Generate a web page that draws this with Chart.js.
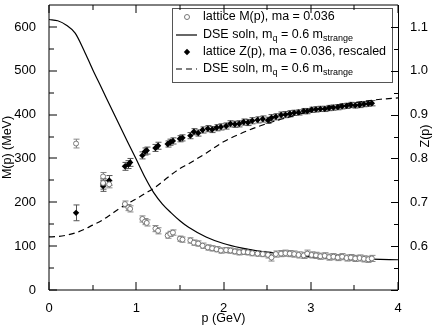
<!DOCTYPE html>
<html>
<head>
<meta charset="utf-8">
<script src="https://cdn.jsdelivr.net/npm/chart.js@4.4.0/dist/chart.umd.min.js"></script>
<style>
  body { margin: 0; background: #fff; }
</style>
</head>
<body>
<canvas id="c" width="436" height="326"></canvas>
<script>
const FONT = '"Liberation Sans", Arial, Helvetica, sans-serif';

// lattice momenta (GeV), shared by M(p) and Z(p)
const momenta = [
  0.31, 0.62, 0.62, 0.69, 0.87, 0.91, 0.93, 1.07, 1.10, 1.12,
  1.22, 1.25, 1.36, 1.39, 1.42, 1.50, 1.53, 1.62, 1.66, 1.71,
  1.76, 1.82, 1.87, 1.92, 1.97, 2.03, 2.08, 2.13, 2.18, 2.23,
  2.28, 2.33, 2.39, 2.45, 2.51, 2.55, 2.60, 2.66, 2.71, 2.76,
  2.81, 2.86, 2.92, 2.96, 3.01, 3.06, 3.11, 3.16, 3.21, 3.26,
  3.31, 3.36, 3.41, 3.46, 3.51, 3.56, 3.61, 3.66, 3.70
];
const latticeM = [
  334, 259, 244, 241, 196, 188, 185, 162, 156, 153,
  140, 135, 124, 128, 131, 117, 115, 113, 108, 106,
  101, 97, 95, 93, 90, 91, 90, 88, 86, 87,
  86, 84, 83, 82, 80, 74, 82, 83, 84, 83,
  82, 80, 79, 83, 80, 79, 77, 78, 75, 76,
  74, 76, 73, 74, 72, 73, 71, 70, 72
];
const latticeMErr = [
  10, 9, 9, 8, 7, 7, 7, 7, 7, 7,
  7, 7, 6, 6, 6, 6, 6, 6, 6, 6,
  6, 6, 6, 6, 6, 6, 6, 6, 6, 6,
  6, 6, 6, 6, 7, 8, 7, 7, 7, 7,
  7, 7, 7, 8, 7, 7, 7, 7, 7, 7,
  7, 7, 7, 7, 7, 7, 7, 7, 7
];
const latticeZ = [
  0.676, 0.737, 0.742, 0.750, 0.782, 0.786, 0.791, 0.807, 0.816, 0.818,
  0.824, 0.829, 0.833, 0.837, 0.840, 0.845, 0.847, 0.852, 0.861, 0.858,
  0.865, 0.868, 0.866, 0.870, 0.872, 0.874, 0.879, 0.878, 0.879, 0.883,
  0.882, 0.886, 0.888, 0.890, 0.887, 0.893, 0.895, 0.899, 0.900, 0.902,
  0.904, 0.905, 0.908, 0.908, 0.911, 0.912, 0.913, 0.913, 0.915, 0.916,
  0.917, 0.919, 0.920, 0.922, 0.921, 0.922, 0.924, 0.925, 0.926
];
const latticeZErr = [
  0.018, 0.012, 0.012, 0.011, 0.009, 0.009, 0.009, 0.008, 0.008, 0.008,
  0.008, 0.008, 0.007, 0.007, 0.007, 0.007, 0.007, 0.007, 0.007, 0.007,
  0.007, 0.007, 0.007, 0.007, 0.007, 0.007, 0.007, 0.007, 0.007, 0.007,
  0.007, 0.007, 0.007, 0.007, 0.007, 0.007, 0.007, 0.007, 0.007, 0.007,
  0.006, 0.006, 0.006, 0.006, 0.006, 0.006, 0.006, 0.006, 0.006, 0.006,
  0.006, 0.006, 0.006, 0.006, 0.006, 0.006, 0.006, 0.006, 0.006
];

// DSE solutions, m_q = 0.6 m_strange
const dseMomenta = [
  0, 0.1, 0.2, 0.3, 0.4, 0.5, 0.6, 0.7, 0.8, 0.9,
  1.0, 1.1, 1.2, 1.3, 1.4, 1.5, 1.6, 1.8, 2.0, 2.2,
  2.4, 2.6, 2.8, 3.0, 3.2, 3.4, 3.6, 3.8, 4.0
];
const dseMass = [
  617, 614, 604, 586, 547, 503, 462, 420, 379, 338,
  298, 257, 222, 196, 176, 158, 143, 121, 106, 96,
  89, 84, 80, 76, 74, 72, 71, 70, 69
];
const dseZ = [
  0.621, 0.622, 0.625, 0.630, 0.638, 0.648, 0.658, 0.671, 0.685, 0.697,
  0.708, 0.720, 0.732, 0.747, 0.763, 0.777, 0.788, 0.812, 0.838, 0.857,
  0.873, 0.886, 0.897, 0.908, 0.917, 0.924, 0.930, 0.935, 0.938
];

const legendLabels = [
  [['lattice M(p), ma = 0.036']],
  [['DSE soln, m'], ['q', true], [' = 0.6 m'], ['strange', true]],
  [['lattice Z(p), ma = 0.036, rescaled']],
  [['DSE soln, m'], ['q', true], [' = 0.6 m'], ['strange', true]]
];

const pts = (xs, ys) => xs.map((x, i) => ({ x: x, y: ys[i] }));

const errorBars = {
  id: 'errorBars',
  beforeDatasetsDraw(chart) {
    const ctx = chart.ctx;
    const xs = chart.scales.x;
    chart.data.datasets.forEach(ds => {
      if (!ds.errors) return;
      const ys = chart.scales[ds.yAxisID];
      ctx.save();
      ctx.strokeStyle = ds.errorColor;
      ctx.lineWidth = 1;
      ds.data.forEach((d, i) => {
        const px = Math.round(xs.getPixelForValue(d.x)) + 0.5;
        const y1 = ys.getPixelForValue(d.y - ds.errors[i]);
        const y2 = ys.getPixelForValue(d.y + ds.errors[i]);
        ctx.beginPath();
        ctx.moveTo(px, y1); ctx.lineTo(px, y2);
        ctx.moveTo(px - 3, y1); ctx.lineTo(px + 3, y1);
        ctx.moveTo(px - 3, y2); ctx.lineTo(px + 3, y2);
        ctx.stroke();
      });
      ctx.restore();
    });
  }
};

function drawLegend(ctx) {
  const box = { left: 172, top: 8, right: 392, bottom: 82 };
  const rows = [17, 35, 52, 69];
  ctx.save();
  ctx.fillStyle = '#fff';
  ctx.fillRect(box.left, box.top, box.right - box.left, box.bottom - box.top);
  ctx.strokeStyle = '#555';
  ctx.lineWidth = 1;
  ctx.strokeRect(box.left + 0.5, box.top + 0.5, box.right - box.left, box.bottom - box.top);

  // symbols
  ctx.strokeStyle = '#777';
  ctx.fillStyle = '#fff';
  ctx.beginPath(); ctx.arc(187, rows[0], 2.5, 0, Math.PI * 2); ctx.fill(); ctx.stroke();
  ctx.strokeStyle = '#000';
  ctx.lineWidth = 1.2;
  ctx.beginPath(); ctx.moveTo(176, rows[1]); ctx.lineTo(197, rows[1]); ctx.stroke();
  ctx.fillStyle = '#000';
  ctx.beginPath();
  ctx.moveTo(187, rows[2] - 3.2); ctx.lineTo(190.2, rows[2]);
  ctx.lineTo(187, rows[2] + 3.2); ctx.lineTo(183.8, rows[2]);
  ctx.closePath(); ctx.fill();
  ctx.setLineDash([6, 4]);
  ctx.beginPath(); ctx.moveTo(176, rows[3]); ctx.lineTo(197, rows[3]); ctx.stroke();
  ctx.setLineDash([]);

  // text
  ctx.fillStyle = '#000';
  ctx.textBaseline = 'middle';
  legendLabels.forEach((parts, r) => {
    let x = 203;
    parts.forEach(([text, sub]) => {
      ctx.font = (sub ? '9px ' : '12.5px ') + FONT;
      ctx.fillText(text, x, sub ? rows[r] + 4 : rows[r]);
      x += ctx.measureText(text).width;
    });
  });
  ctx.restore();
}

const frame = {
  id: 'frame',
  afterDraw(chart) {
    const ctx = chart.ctx;
    const a = chart.chartArea;
    const { x, yM, yZ } = chart.scales;
    drawLegend(ctx);
    ctx.save();
    ctx.strokeStyle = '#000';
    ctx.lineWidth = 1;
    ctx.beginPath();
    ctx.moveTo(a.left, a.bottom); ctx.lineTo(a.left, a.top);
    ctx.lineTo(a.right, a.top);
    ctx.moveTo(a.left, a.bottom); ctx.lineTo(a.right, a.bottom);
    ctx.stroke();
    ctx.beginPath();
    ctx.moveTo(a.right + 0.5, a.top); ctx.lineTo(a.right + 0.5, a.bottom);
    ctx.stroke();

    const withMinor = (scale) => {
      const vals = scale.ticks.map(t => t.value);
      const out = vals.map(v => [v, true]);
      for (let i = 0; i < vals.length - 1; i++) out.push([(vals[i] + vals[i + 1]) / 2, false]);
      return out;
    };
    ctx.beginPath();
    withMinor(x).forEach(([v, major]) => {
      const px = Math.round(x.getPixelForValue(v));
      const len = major ? 8 : 5;
      ctx.moveTo(px, a.bottom); ctx.lineTo(px, a.bottom - len);
      ctx.moveTo(px, a.top); ctx.lineTo(px, a.top + len);
    });
    withMinor(yM).forEach(([v, major]) => {
      const py = Math.round(yM.getPixelForValue(v));
      ctx.moveTo(a.left, py); ctx.lineTo(a.left + (major ? 8 : 5), py);
    });
    withMinor(yZ).forEach(([v, major]) => {
      const py = Math.round(yZ.getPixelForValue(v)) + 0.5;
      ctx.moveTo(a.right, py); ctx.lineTo(a.right - (major ? 7 : 4), py);
    });
    ctx.stroke();

    // right axis title, rotated like the left one
    ctx.fillStyle = '#000';
    ctx.font = '12.5px ' + FONT;
    ctx.textAlign = 'center';
    ctx.textBaseline = 'middle';
    ctx.translate(426, 136);
    ctx.rotate(-Math.PI / 2);
    ctx.fillText('Z(p)', 0, 0);
    ctx.restore();
  }
};

const tickFont = { family: FONT, size: 13 };
const titleFont = { family: FONT, size: 12.5 };
const noPadY = s => { s.paddingTop = 0; s.paddingBottom = 0; };

new Chart(document.getElementById('c'), {
  type: 'scatter',
  data: {
    datasets: [
      {
        label: 'lattice M(p), ma = 0.036',
        data: pts(momenta, latticeM),
        yAxisID: 'yM',
        pointStyle: 'circle',
        pointRadius: 2.5,
        borderColor: '#777',
        backgroundColor: '#fff',
        borderWidth: 1,
        errors: latticeMErr,
        errorColor: '#888'
      },
      {
        label: 'DSE soln M',
        data: pts(dseMomenta, dseMass),
        yAxisID: 'yM',
        showLine: true,
        pointRadius: 0,
        borderColor: '#000',
        borderWidth: 1.2,
        cubicInterpolationMode: 'monotone'
      },
      {
        label: 'lattice Z(p), ma = 0.036, rescaled',
        data: pts(momenta, latticeZ),
        yAxisID: 'yZ',
        pointStyle: 'rectRot',
        pointRadius: 3.2,
        borderColor: '#000',
        backgroundColor: '#000',
        borderWidth: 0,
        errors: latticeZErr,
        errorColor: '#555'
      },
      {
        label: 'DSE soln Z',
        data: pts(dseMomenta, dseZ),
        yAxisID: 'yZ',
        showLine: true,
        pointRadius: 0,
        borderColor: '#000',
        borderWidth: 1.2,
        borderDash: [6, 4],
        cubicInterpolationMode: 'monotone'
      }
    ]
  },
  options: {
    responsive: false,
    animation: false,
    events: [],
    layout: { padding: { top: 2, left: 0, right: 0, bottom: 0 } },
    plugins: { legend: { display: false }, tooltip: { enabled: false } },
    scales: {
      x: {
        type: 'linear',
        position: 'bottom',
        min: 0, max: 4,
        border: { display: false },
        grid: { display: false },
        ticks: { stepSize: 1, padding: 3, color: '#000', font: tickFont },
        title: { display: true, text: 'p (GeV)', color: '#000', font: titleFont, padding: { top: 0, bottom: 0 } },
        afterFit(s) { s.height = 36; s.paddingLeft = 0; s.paddingRight = 0; }
      },
      yM: {
        type: 'linear',
        position: 'left',
        min: 0, max: 650,
        border: { display: false },
        grid: { display: false },
        ticks: { stepSize: 100, includeBounds: false, padding: 5, color: '#000', font: tickFont },
        title: { display: true, text: 'M(p) (MeV)', color: '#000', font: titleFont, padding: { top: 0, bottom: 0 } },
        afterFit(s) { s.width = 49; noPadY(s); }
      },
      yZ: {
        type: 'linear',
        position: 'right',
        min: 0.5, max: 1.15,
        border: { display: false },
        grid: { display: false },
        ticks: {
          stepSize: 0.1, includeBounds: false, padding: 4, color: '#000', font: tickFont,
          callback: v => (v < 0.55 ? '' : v.toFixed(1))
        },
        afterFit(s) { s.width = 38; noPadY(s); }
      }
    }
  },
  plugins: [errorBars, frame]
});
</script>
</body>
</html>
